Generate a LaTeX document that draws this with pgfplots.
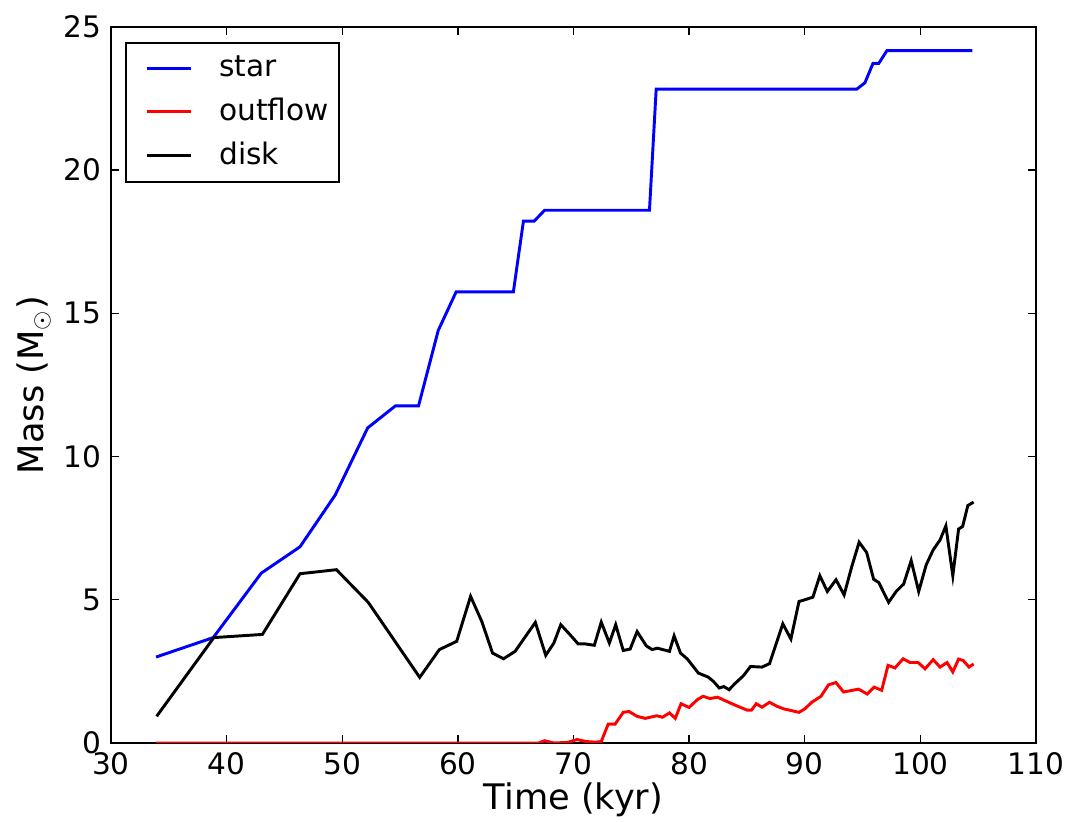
\documentclass[border=0pt]{standalone}
\usepackage{fontspec}
\setmainfont{DejaVu Sans}
\usepackage{pgfplots}
\pgfplotsset{compat=1.18}
\begin{document}
\begin{tikzpicture}
\begin{axis}[
  name=ax,
  width=346.9pt, height=268.5pt, scale only axis,
  xmin=30, xmax=110, ymin=0, ymax=25,
  xtick={30,40,...,110}, ytick={0,5,...,25},
  tick align=inside, ticks=both, xtick pos=both, ytick pos=both,
  major tick length=3pt,
  tick style={black, line width=0.5pt},
  axis line style={line width=0.75pt},
  /pgf/number format/assume math mode=true,
  ticklabel style={font=\fontsize{11.1}{13}\selectfont},
  xlabel={Time (kyr)}, ylabel={Mass (M$_\odot$)},
  label style={font=\fontsize{13.2}{15}\selectfont},
  xlabel style={yshift=4pt},
  ylabel style={yshift=-2pt},
  legend style={at={(axis description cs:0.0151,0.979)}, anchor=north west,
    font=\fontsize{11.1}{13}\selectfont, line width=0.75pt, draw=black,
    inner xsep=2pt, inner ysep=2.8pt, row sep=2.6pt},
  legend cell align=left,
  legend image code/.code={\draw[#1,line width=1.1pt] (5.75pt,0pt) -- (22.25pt,0pt); \path[draw=none] (0pt,0pt) -- (31pt,0pt);},
]
\addplot[blue, line width=1.1pt] coordinates {
(33.9,3.0) (38.85,3.68) (43.0,5.93) (46.35,6.85) (49.4,8.66) (52.2,11.0) (54.6,11.77) (56.6,11.77) (58.3,14.4) (59.85,15.75) (64.8,15.75) (65.67,18.22) (66.6,18.22) (67.5,18.6) (76.57,18.6) (77.15,22.83) (94.5,22.83) (95.2,23.05) (95.9,23.73) (96.4,23.73) (97.1,24.17) (104.5,24.17)
};
\addlegendentry{star}
\addplot[red, line width=1.1pt] coordinates {
(33.9,0) (67.0,0) (67.5,0.08) (68.3,0) (69.5,0.02) (70.3,0.12) (71.1,0.05) (71.9,0.03) (72.4,0.05) (73.0,0.66) (73.6,0.66) (74.3,1.07) (74.8,1.1) (75.5,0.93) (76.2,0.86) (77.2,0.95) (77.7,0.9) (78.3,1.05) (78.8,0.86) (79.3,1.37) (80.0,1.24) (80.7,1.51) (81.2,1.63) (81.8,1.55) (82.45,1.6) (83.1,1.48) (84.1,1.3) (85.0,1.15) (85.4,1.15) (85.8,1.37) (86.3,1.25) (86.95,1.42) (87.6,1.28) (88.2,1.19) (89.5,1.07) (90.0,1.19) (90.6,1.42) (91.4,1.63) (92.05,2.03) (92.7,2.11) (93.35,1.78) (94.65,1.88) (95.4,1.71) (96.0,1.95) (96.65,1.84) (97.2,2.71) (97.8,2.62) (98.5,2.94) (99.1,2.81) (99.8,2.81) (100.4,2.59) (101.1,2.91) (101.7,2.65) (102.3,2.81) (102.8,2.48) (103.3,2.93) (103.7,2.88) (104.2,2.65) (104.6,2.76)
};
\addlegendentry{outflow}
\addplot[black, line width=1.1pt] coordinates {
(33.95,0.93) (38.9,3.68) (43.1,3.79) (46.35,5.91) (49.5,6.05) (52.25,4.91) (56.7,2.29) (58.4,3.26) (59.9,3.55) (61.1,5.12) (62.07,4.24) (63.0,3.14) (63.95,2.94) (64.95,3.2) (66.7,4.21) (67.6,3.06) (68.3,3.49) (68.9,4.13) (69.7,3.78) (70.4,3.46) (71.0,3.46) (71.8,3.41) (72.4,4.22) (73.1,3.49) (73.65,4.13) (74.3,3.23) (74.9,3.28) (75.5,3.89) (76.3,3.39) (76.8,3.26) (77.25,3.31) (78.3,3.2) (78.7,3.74) (79.25,3.14) (79.85,2.93) (80.8,2.44) (81.65,2.30) (82.1,2.15) (82.6,1.92) (83.0,1.97) (83.45,1.86) (83.95,2.07) (84.7,2.35) (85.3,2.67) (86.3,2.65) (86.95,2.77) (88.1,4.16) (88.8,3.63) (89.5,4.94) (90.0,5.0) (90.7,5.09) (91.3,5.84) (91.95,5.29) (92.7,5.7) (93.4,5.17) (94.05,6.14) (94.7,7.01) (95.35,6.65) (95.95,5.72) (96.4,5.6) (97.25,4.91) (97.9,5.29) (98.55,5.55) (99.2,6.37) (99.85,5.29) (100.5,6.22) (101.1,6.74) (101.7,7.09) (102.2,7.58) (102.8,5.84) (103.3,7.47) (103.65,7.56) (104.1,8.29) (104.6,8.41)
};
\addlegendentry{disk}
\end{axis}
\pgfresetboundingbox
\path ([shift={(-41.6pt,-29.6pt)}]ax.south west) rectangle ([shift={(13.1pt,10.1pt)}]ax.north east);
\end{tikzpicture}
\end{document}
